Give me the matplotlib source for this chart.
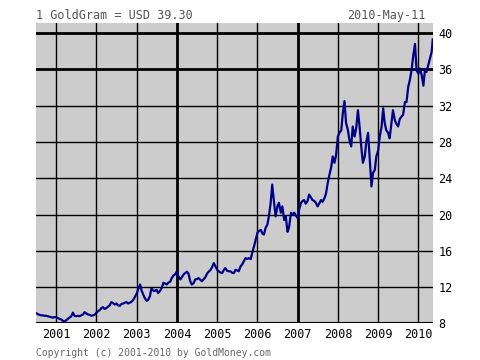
import numpy as np
import pandas as pd
import matplotlib
matplotlib.use("Agg")
import matplotlib.pyplot as plt

# gold price, USD per gram, sampled on the 1st and 15th of each month
start_date = "2000-07-01"
last_date = "2010-05-11"
last_value = 39.30

v2000 = [9.15, 9.05, 8.95, 8.9, 8.9, 8.85, 8.85, 8.8, 8.75, 8.7, 8.65, 8.7]
v2001 = [8.7, 8.6, 8.5, 8.45, 8.3, 8.25, 8.35, 8.5, 8.65, 8.75, 9.2, 8.85,
         8.8, 8.85, 8.8, 8.9, 9.0, 9.25, 9.1, 9.0, 8.95, 8.85, 8.9, 8.95]
v2002 = [9.2, 9.35, 9.5, 9.7, 9.8, 9.6, 9.7, 9.85, 10.0, 10.35, 10.25, 10.1,
         10.2, 10.0, 9.95, 10.15, 10.2, 10.3, 10.35, 10.2, 10.3, 10.4, 10.6, 10.9]
v2003 = [11.3, 11.8, 12.3, 11.6, 11.2, 10.8, 10.5, 10.6, 11.0, 11.9, 11.6, 11.6,
         11.7, 11.35, 11.6, 11.9, 12.5, 12.4, 12.3, 12.5, 12.6, 13.0, 13.3, 13.4]
v2004 = [13.75, 13.2, 12.85, 13.1, 13.4, 13.55, 13.7, 13.5, 12.65, 12.3, 12.45, 12.85,
         12.9, 13.0, 12.8, 12.65, 12.9, 13.1, 13.5, 13.7, 13.9, 14.2, 14.65, 14.3]
v2005 = [13.9, 13.75, 13.6, 13.55, 13.9, 14.1, 13.8, 13.75, 13.75, 13.6, 13.55, 13.9,
         13.85, 13.75, 14.3, 14.5, 14.9, 15.2, 15.1, 15.2, 15.1, 15.8, 16.5, 17.2]
v2006 = [18.0, 18.2, 18.3, 17.9, 17.8, 18.5, 18.9, 19.8, 21.3, 23.3, 21.3, 19.8,
         20.9, 21.3, 20.2, 20.9, 19.4, 19.8, 18.1, 18.6, 20.2, 20.0, 20.2, 19.9]
v2007 = [19.6, 20.6, 21.3, 21.5, 21.6, 21.2, 21.5, 22.2, 21.9, 21.6, 21.5, 21.3,
         20.9, 21.2, 21.6, 21.4, 21.8, 22.3, 23.5, 24.3, 25.2, 26.4, 25.7, 26.5]
v2008 = [28.6, 29.0, 29.3, 31.2, 32.5, 30.1, 29.3, 28.2, 27.5, 29.7, 28.6, 29.5,
         31.5, 29.8, 27.4, 25.7, 26.4, 28.0, 29.0, 26.4, 23.1, 24.6, 24.9, 26.4]
v2009 = [27.1, 28.6, 29.7, 31.7, 30.1, 29.3, 29.0, 28.4, 30.1, 31.5, 30.4, 30.0,
         29.7, 30.5, 30.8, 31.0, 32.4, 32.4, 34.1, 34.8, 36.0, 37.5, 38.8, 35.9]
v2010 = [35.5, 36.1, 35.3, 34.2, 35.9, 35.7, 36.5, 37.2, 37.9]

year_ticks = list(range(2001, 2011))
price_ticks = [8, 12, 16, 20, 24, 28, 32, 36, 40]
thick_years = [2004, 2007]
thick_prices = [36, 40]

values = v2000 + v2001 + v2002 + v2003 + v2004 + v2005 + v2006 + v2007 + v2008 + v2009 + v2010
dates = list(pd.date_range(start_date, periods=len(values), freq="SMS"))
dates.append(pd.Timestamp(last_date))
values.append(last_value)

fig = plt.figure(figsize=(4.8, 3.6), dpi=100)
ax = fig.add_axes([0.075, 0.1014, 0.827, 0.8347])
ax.set_facecolor("#cccccc")

for yr in year_ticks:
    lw = 2.0 if yr in thick_years else 1.0
    ax.axvline(pd.Timestamp(f"{yr}-01-01"), color="black", lw=lw, zorder=1)
for p in price_ticks:
    lw = 2.0 if p in thick_prices else 1.0
    if p == 8:
        lw = 1.5
    ax.axhline(p, color="black", lw=lw, zorder=1)

ax.plot(dates, values, color="#000088", lw=1.6, zorder=3)

ax.set_xlim(pd.Timestamp(start_date), pd.Timestamp("2010-05-13"))
ax.set_ylim(8, 41.1)

for s in ax.spines.values():
    s.set_visible(False)

mono = "DejaVu Sans Mono"
ax.set_xticks([pd.Timestamp(f"{yr}-01-01") for yr in year_ticks])
ax.set_xticklabels([str(yr) for yr in year_ticks], family=mono, fontsize=8.5)
ax.yaxis.tick_right()
ax.set_yticks(price_ticks)
ax.set_yticklabels([str(p) for p in price_ticks], family=mono, fontsize=8.5)
ax.tick_params(length=0, pad=3)
ax.tick_params(axis="y", pad=4)

fig.text(0.075, 0.958, "1 GoldGram = USD %.2f" % last_value, family=mono,
         fontsize=8.5, color="#555555", ha="left", va="center")
fig.text(0.887, 0.958, "2010-May-11", family=mono, fontsize=8.5,
         color="#555555", ha="right", va="center")
fig.text(0.075, 0.02, "Copyright (c) 2001-2010 by GoldMoney.com", family=mono,
         fontsize=7, color="#666666", ha="left", va="center")

fig.savefig("out.png", dpi=100)
